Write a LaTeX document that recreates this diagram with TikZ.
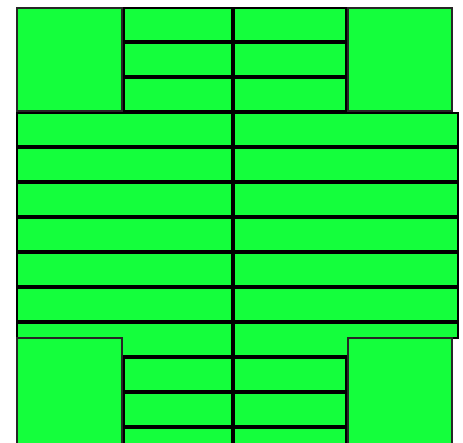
\documentclass[tikz,border=0pt]{standalone}
\definecolor{cellgreen}{RGB}{20,255,60}
\begin{document}
\begin{tikzpicture}[x=1pt, y=-1pt,
      cell/.style={fill=cellgreen, draw=black, line width=2pt},
      block/.style={fill=cellgreen, draw=black!85, line width=1.5pt}
    ]
    \useasboundingbox (0,0) rectangle (463,442);
    \clip (0,0) rectangle (463,442);
    % short bars between the corner blocks
    \foreach \k [evaluate=\k as \yt using 8+35*\k] in {0,1,2,10,11,12} {
      \draw[cell] (124,\yt) rectangle ++(108,33);
      \draw[cell] (234,\yt) rectangle ++(112,33); }
    % full width bars
    \foreach \k [evaluate=\k as \yt using 8+35*\k] in {3,...,8} {
      \draw[cell] (17,\yt)  rectangle ++(215,33);
      \draw[cell] (234,\yt) rectangle ++(224,33); }
    % last full bar, cut short at the right end
    \draw[cell] (17,323) rectangle (232,356);
    \draw[cell] (234,323) -- (458,323) -- (458,338) -- (350,338)
      -- (350,356) -- (234,356) -- cycle;
    % corner blocks
    \draw[block] (17,8)    rectangle (122,111);
    \draw[block] (348,8)   rectangle (452,111);
    \draw[block] (17,338)  rectangle (122,452);
    \draw[block] (348,338) rectangle (452,452);
  \end{tikzpicture}
\end{document}
